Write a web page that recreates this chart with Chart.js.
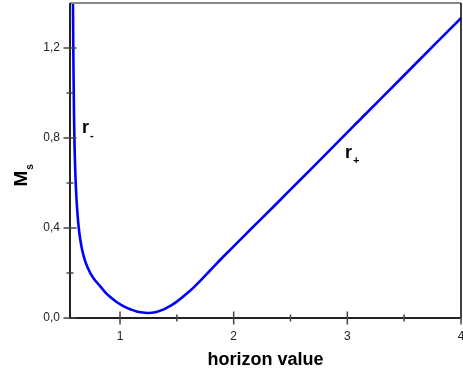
<!DOCTYPE html>
<html>
<head>
<meta charset="utf-8">
<script src="https://cdn.jsdelivr.net/npm/chart.js@4.4.1/dist/chart.umd.min.js"></script>
<style>
    html, body { margin: 0; padding: 0; background: #fff; }
    #wrap { width: 463px; height: 374px; position: relative; }
</style>
</head>
<body>
<div id="wrap"><canvas id="msChart"></canvas></div>
<script>
// values
const horizonValues = [0.586, 0.589, 0.593, 0.598, 0.604, 0.612, 0.622, 0.635, 0.650, 0.668,
    0.690, 0.715, 0.745, 0.78, 0.825, 0.87, 0.912, 0.97, 1.029, 1.09, 1.146, 1.219, 1.28,
    1.32, 1.38, 1.44, 1.50, 1.555, 1.616, 1.67, 1.73, 1.79, 1.85, 1.906, 1.967, 2.05,
    2.143, 2.319, 2.495, 2.7, 3.0, 3.3, 3.6, 4.0];
const msValues = [1.40, 1.20, 1.00, 0.82, 0.69, 0.58, 0.49, 0.41, 0.35, 0.30,
    0.258, 0.224, 0.194, 0.168, 0.142, 0.114, 0.094, 0.071, 0.053, 0.039, 0.029, 0.023, 0.023,
    0.027, 0.037, 0.053, 0.073, 0.095, 0.121, 0.147, 0.178, 0.21, 0.242, 0.271, 0.302, 0.344,
    0.391, 0.479, 0.568, 0.672, 0.825, 0.977, 1.13, 1.333];

const xMajorTicks = [1, 2, 3, 4];
const xMinorTicks = [1.5, 2.5, 3.5];
const yMajorTicks = [0, 0.4, 0.8, 1.2];
const yMinorTicks = [0.2, 0.6, 1.0];

// branch labels: [text, subscript, x, y] in data units
const branchLabels = [["r", "-", 0.666, 0.822], ["r", "+", 2.979, 0.711]];

const points = horizonValues.map((x, i) => ({ x, y: msValues[i] }));

const frameAndTicks = {
    id: "frameAndTicks",
    afterDraw(chart) {
        const ctx = chart.ctx;
        const area = chart.chartArea;
        const xs = chart.scales.x;
        const ys = chart.scales.y;

        ctx.save();

        // frame
        ctx.lineWidth = 2;
        ctx.strokeStyle = "#8a8a8a";
        ctx.beginPath();
        ctx.moveTo(area.left, area.top);
        ctx.lineTo(area.right, area.top);
        ctx.stroke();
        ctx.strokeStyle = "#000";
        ctx.lineWidth = 1.5;
        ctx.beginPath();
        ctx.moveTo(area.right, area.top);
        ctx.lineTo(area.right, area.bottom);
        ctx.stroke();
        ctx.lineWidth = 2;
        ctx.strokeStyle = "#222";
        ctx.beginPath();
        ctx.moveTo(area.left, area.top);
        ctx.lineTo(area.left, area.bottom);
        ctx.lineTo(area.right, area.bottom);
        ctx.stroke();

        // ticks crossing the axes
        ctx.strokeStyle = "#444";
        ctx.lineWidth = 1.5;
        const tick = (x1, y1, x2, y2) => {
            ctx.beginPath();
            ctx.moveTo(x1, y1);
            ctx.lineTo(x2, y2);
            ctx.stroke();
        };
        xMajorTicks.forEach(v => {
            const px = xs.getPixelForValue(v);
            tick(px, area.bottom - 6.5, px, area.bottom + 6.5);
        });
        xMinorTicks.forEach(v => {
            const px = xs.getPixelForValue(v);
            tick(px, area.bottom - 3.5, px, area.bottom + 3.5);
        });
        yMajorTicks.forEach(v => {
            const py = ys.getPixelForValue(v);
            tick(area.left - 6.5, py, area.left + 6.5, py);
        });
        yMinorTicks.forEach(v => {
            const py = ys.getPixelForValue(v);
            tick(area.left - 3.5, py, area.left + 3.5, py);
        });

        // branch labels
        ctx.fillStyle = "#000";
        ctx.textBaseline = "alphabetic";
        ctx.textAlign = "left";
        branchLabels.forEach(([txt, sub, x, y]) => {
            const px = xs.getPixelForValue(x);
            const py = ys.getPixelForValue(y);
            ctx.font = "bold 18px 'Liberation Sans', Arial, sans-serif";
            ctx.fillText(txt, px, py);
            const w = ctx.measureText(txt).width;
            ctx.font = "bold 11px 'Liberation Sans', Arial, sans-serif";
            ctx.fillText(sub, px + w + 1, py + 6);
        });

        // y axis title M_s
        ctx.translate(27, 186.5);
        ctx.rotate(-Math.PI / 2);
        ctx.font = "bold 19px 'Liberation Sans', Arial, sans-serif";
        ctx.fillText("M", 0, 0);
        const mw = ctx.measureText("M").width;
        ctx.font = "bold 10px 'Liberation Sans', Arial, sans-serif";
        ctx.fillText("s", mw + 1, 6);

        ctx.restore();
    }
};

new Chart(document.getElementById("msChart"), {
    type: "scatter",
    data: {
        datasets: [{
            data: points,
            showLine: true,
            borderColor: "#0000ff",
            borderWidth: 2.6,
            pointRadius: 0,
            tension: 0.4,
            fill: false
        }]
    },
    options: {
        responsive: true,
        maintainAspectRatio: false,
        devicePixelRatio: 1,
        animation: false,
        layout: { padding: { top: 3, right: 2, left: 0, bottom: 0 } },
        plugins: {
            legend: { display: false },
            tooltip: { enabled: false }
        },
        scales: {
            x: {
                type: "linear",
                min: 0.56,
                max: 4,
                grid: { display: false, drawTicks: false },
                border: { display: false },
                afterBuildTicks: scale => {
                    scale.ticks = xMajorTicks.map(v => ({ value: v }));
                },
                afterFit: scale => {
                    scale.height = 56;
                    scale.paddingLeft = 0;
                    scale.paddingRight = 0;
                },
                ticks: {
                    padding: 11,
                    color: "#222",
                    font: { family: "'Liberation Sans', Arial, sans-serif", size: 12 },
                    callback: v => String(v).replace(".", ",")
                },
                title: {
                    display: true,
                    text: "horizon value",
                    color: "#000",
                    padding: { top: 0, bottom: 3 },
                    font: { family: "'Liberation Sans', Arial, sans-serif", size: 18, weight: "bold" }
                }
            },
            y: {
                type: "linear",
                min: 0,
                max: 1.4,
                grid: { display: false, drawTicks: false },
                border: { display: false },
                afterBuildTicks: scale => {
                    scale.ticks = yMajorTicks.map(v => ({ value: v }));
                },
                afterFit: scale => {
                    scale.width = 70;
                    scale.paddingTop = 0;
                    scale.paddingBottom = 0;
                },
                ticks: {
                    padding: 10,
                    color: "#222",
                    font: { family: "'Liberation Sans', Arial, sans-serif", size: 12 },
                    callback: v => v.toFixed(1).replace(".", ",")
                }
            }
        }
    },
    plugins: [frameAndTicks]
});
</script>
</body>
</html>
